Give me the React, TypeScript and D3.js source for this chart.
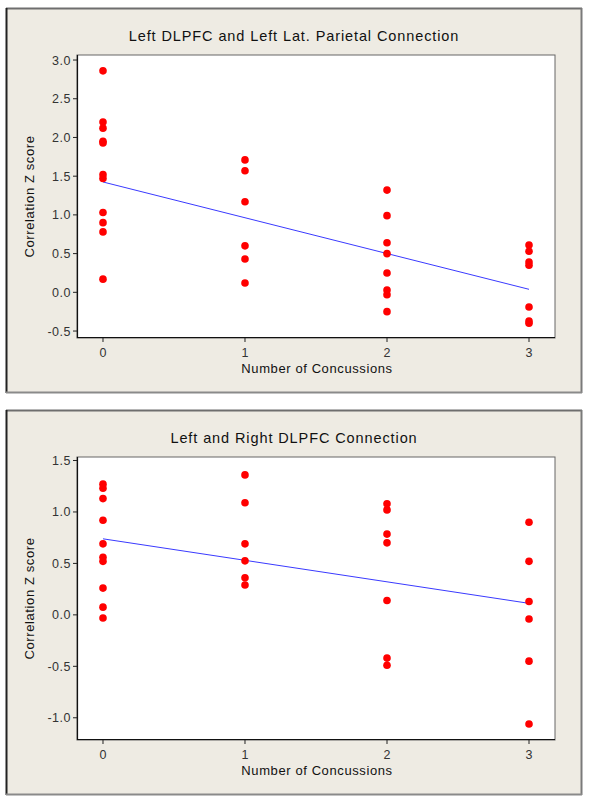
import React from "react";
import * as d3 from "d3";

// ---- Data ----
const concussions = [0, 1, 2, 3];
const xTickLabels = ["0", "1", "2", "3"];

const title1 = "Left DLPFC and Left Lat. Parietal Connection";
const p1_0 = [2.86, 2.2, 2.12, 1.95, 1.93, 1.52, 1.47, 1.03, 0.9, 0.78, 0.17];
const p1_1 = [1.71, 1.57, 1.17, 0.6, 0.43, 0.12];
const p1_2 = [1.32, 0.99, 0.64, 0.5, 0.25, 0.03, -0.03, -0.25];
const p1_3 = [0.61, 0.53, 0.39, 0.35, -0.19, -0.37, -0.4];
const p1Ticks = [-0.5, 0, 0.5, 1, 1.5, 2, 2.5, 3];
const p1Fit = [1.425, -0.462]; // intercept, slope

const title2 = "Left and Right DLPFC Connection";
const p2_0 = [1.27, 1.23, 1.13, 0.92, 0.69, 0.56, 0.52, 0.26, 0.075, -0.03];
const p2_1 = [1.36, 1.09, 0.69, 0.525, 0.36, 0.29];
const p2_2 = [1.08, 1.02, 0.785, 0.7, 0.14, -0.42, -0.49];
const p2_3 = [0.9, 0.52, 0.13, -0.04, -0.45, -1.06];
const p2Ticks = [-1, -0.5, 0, 0.5, 1, 1.5];
const p2Fit = [0.739, -0.209];

const xLabel = "Number of Concussions";
const yLabel = "Correlation Z score";

const FONT = "'Liberation Sans', Arial, sans-serif";

type PanelProps = {
  top: number;
  title: string;
  groups: number[][];
  ticks: number[];
  yDomain: [number, number];
  fit: number[];
};

function Panel({ top, title, groups, ticks, yDomain, fit }: PanelProps) {
  const fx0 = 6, fx1 = 582, fh = 385;
  const px0 = 77, px1 = 555;
  const py0 = top + 47, py1 = top + 330;
  const x = d3.scaleLinear().domain([-0.183, 3.183]).range([px0, px1]);
  const y = d3.scaleLinear().domain(yDomain).range([py1, py0]);
  const line = d3
    .line<number>()
    .x((d) => x(d))
    .y((d) => y(fit[0] + fit[1] * d));
  const pts: { cx: number; cy: number }[] = [];
  groups.forEach((g, i) => g.forEach((v) => pts.push({ cx: x(concussions[i]), cy: y(v) })));
  return (
    <g>
      <rect x={fx0} y={top} width={fx1 - fx0} height={fh} fill="#EEEBE3" />
      <line x1={fx0} x2={fx1} y1={top + 0.5} y2={top + 0.5} stroke="#6e6e6e" strokeWidth={2} />
      <line x1={fx0 + 0.5} x2={fx0 + 0.5} y1={top} y2={top + fh} stroke="#222" strokeWidth={2} />
      <line x1={fx1 - 0.5} x2={fx1 - 0.5} y1={top} y2={top + fh} stroke="#7a7a7a" strokeWidth={2} />
      <line x1={fx0} x2={fx1} y1={top + fh - 0.5} y2={top + fh - 0.5} stroke="#8a8a8a" strokeWidth={2} />
      <text
        x={(fx0 + fx1) / 2}
        y={top + 33}
        textAnchor="middle"
        fontFamily={FONT}
        fontSize={14.5}
        letterSpacing={0.9}
        fill="#111"
      >
        {title}
      </text>
      <rect x={px0} y={py0} width={px1 - px0} height={py1 - py0} fill="#fff" stroke="#666" strokeWidth={1} />
      <line x1={px0 + 0.5} x2={px0 + 0.5} y1={py0} y2={py1} stroke="#111" strokeWidth={1.2} />
      <line x1={px0} x2={px1} y1={py1 - 0.5} y2={py1 - 0.5} stroke="#111" strokeWidth={1.2} />
      {ticks.map((t) => (
        <g key={t}>
          <line x1={px0 - 4} x2={px0} y1={y(t)} y2={y(t)} stroke="#222" />
          <text
            x={px0 - 6}
            y={y(t) + 4.5}
            textAnchor="end"
            fontFamily={FONT}
            fontSize={12.5}
            letterSpacing={0.5}
            fill="#333"
          >
            {t.toFixed(1)}
          </text>
        </g>
      ))}
      {concussions.map((c, i) => (
        <g key={c}>
          <line x1={x(c)} x2={x(c)} y1={py1} y2={py1 + 4} stroke="#222" />
          <text x={x(c)} y={py1 + 19} textAnchor="middle" fontFamily={FONT} fontSize={12.5} fill="#333">
            {xTickLabels[i]}
          </text>
        </g>
      ))}
      <text
        x={(px0 + px1) / 2 + 1}
        y={py1 + 35}
        textAnchor="middle"
        fontFamily={FONT}
        fontSize={13}
        letterSpacing={0.6}
        fill="#111"
      >
        {xLabel}
      </text>
      <text
        transform={`translate(${34},${(py0 + py1) / 2}) rotate(-90)`}
        textAnchor="middle"
        fontFamily={FONT}
        fontSize={13}
        letterSpacing={0.6}
        fill="#111"
      >
        {yLabel}
      </text>
      <path d={line([0, 3]) || ""} stroke="#3a3aff" strokeWidth={1} fill="none" />
      {pts.map((p, i) => (
        <circle key={i} cx={p.cx} cy={p.cy} r={3.8} fill="#ff0000" />
      ))}
    </g>
  );
}

export default function App() {
  return (
    <svg
      width={590}
      height={801}
      style={{ position: "absolute", left: 0, top: 0, background: "#fff" }}
    >
      <Panel
        top={8}
        title={title1}
        groups={[p1_0, p1_1, p1_2, p1_3]}
        ticks={p1Ticks}
        yDomain={[-0.59, 3.065]}
        fit={p1Fit}
      />
      <Panel
        top={410}
        title={title2}
        groups={[p2_0, p2_1, p2_2, p2_3]}
        ticks={p2Ticks}
        yDomain={[-1.216, 1.534]}
        fit={p2Fit}
      />
    </svg>
  );
}
